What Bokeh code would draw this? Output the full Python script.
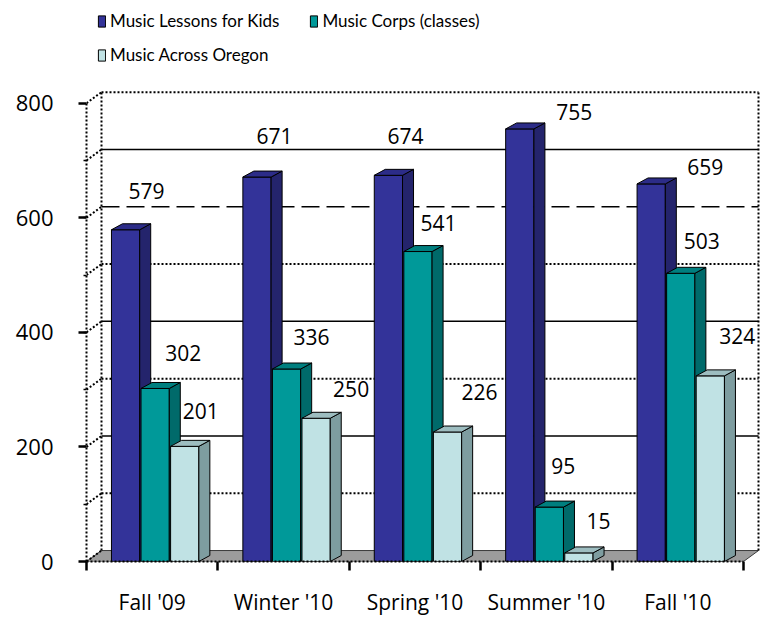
import numpy as np
from bokeh.plotting import figure
from bokeh.models import Range1d, FixedTicker, Legend, LegendItem
from bokeh.core.properties import value
from bokeh.embed import file_html
from bokeh.resources import INLINE

# ---------------- data ----------------
categories = ["Fall '09", "Winter '10", "Spring '10", "Summer '10", "Fall '10"]
series_names = ["Music Lessons for Kids", "Music Corps (classes)", "Music Across Oregon"]
lessons_for_kids = [579, 671, 674, 755, 659]
music_corps = [302, 336, 541, 95, 503]
music_across_oregon = [201, 250, 226, 15, 324]
y_ticks = [0, 200, 400, 600, 800]
y_max = 800

# ---------------- styles ----------------
FONT = "Open Sans"
LEG_FONT = "Lato"
front_colors = ["#333399", "#009999", "#C0E2E4"]
side_colors = ["#24246C", "#006A6A", "#7E9DA0"]
top_colors = ["#2C2C88", "#007F7F", "#9DBDC0"]
floor_color = "#9C9C9C"
# per-label pixel nudges (dx, dy) from the top-centre of each bar's front face
label_nudges = [
    [(21, -39), (17.5, -41), (17, -39.5), (54.5, -17), (54, -17)],
    [(28, -35), (25, -32), (20.5, -29), (14, -41), (21, -32)],
    [(16, -35), (35, -29), (32, -40), (19.5, -32), (27, -40)],
]
# back-wall gridline styles per level
grid_styles = {100: "dot", 200: "solid", 300: "dot", 400: "solid",
               500: "dot", 600: "dash", 700: "solid", 800: "dot"}

# ---------------- geometry ----------------
W, H = 771, 618
B_LEFT, B_RIGHT, B_TOP, B_BOTTOM = 86, 0, 0, 55
CAT_PX = 131.4        # pixels per category
UNIT_PX = 0.575       # pixels per value unit
frame_w = W - B_LEFT - B_RIGHT
frame_h = H - B_TOP - B_BOTTOM
x_end = frame_w / CAT_PX
y_end = frame_h / UNIT_PX

WALL_DX, WALL_DY = 15 / CAT_PX, 11 / UNIT_PX
BAR_DX, BAR_DY = 11 / CAT_PX, 6 / UNIT_PX
BAR_W = 0.215
BAR_OFFS = [0.19, 0.415, 0.64]

n = len(categories)
series = [lessons_for_kids, music_corps, music_across_oregon]

p = figure(width=W, height=H, output_backend="svg", toolbar_location=None,
           x_range=Range1d(0, x_end), y_range=Range1d(0, y_end),
           min_border_left=B_LEFT, min_border_right=B_RIGHT,
           min_border_top=B_TOP, min_border_bottom=B_BOTTOM)
p.xgrid.visible = False
p.ygrid.visible = False
p.outline_line_color = None
p.background_fill_color = "white"
p.border_fill_color = "white"

dot = dict(line_color="black", line_width=2, line_dash="2 2")
solid = dict(line_color="black", line_width=1.5)
dash = dict(line_color="black", line_width=1.5, line_dash="18 7")
style_map = {"dot": dot, "solid": solid, "dash": dash}

# floor
p.patch([0, n, n + WALL_DX, WALL_DX], [0, 0, WALL_DY, WALL_DY],
        fill_color=floor_color, line_color="#3a3a3a", line_width=1)

# back wall gridlines
levels = list(range(100, y_max + 1, 100))
for lv in levels:
    p.segment(x0=[WALL_DX], y0=[lv + WALL_DY], x1=[n + WALL_DX], y1=[lv + WALL_DY],
              **style_map[grid_styles[lv]])
# back wall edges
p.segment(x0=[WALL_DX, n + WALL_DX], y0=[WALL_DY, WALL_DY],
          x1=[WALL_DX, n + WALL_DX], y1=[y_max + WALL_DY, y_max + WALL_DY], **dot)
# left wall diagonals
diag_levels = list(range(0, y_max + 1, 100))
p.segment(x0=[0] * len(diag_levels), y0=diag_levels,
          x1=[WALL_DX] * len(diag_levels), y1=[v + WALL_DY for v in diag_levels], **dot)

# bars
front_renderers = []
for s, vals in enumerate(series):
    vals = np.array(vals, dtype=float)
    left = np.arange(n) + BAR_OFFS[s]
    right = left + BAR_W
    r = p.quad(left=left, right=right, bottom=0, top=vals,
               fill_color=front_colors[s], line_color="black", line_width=1)
    front_renderers.append(r)
    side_xs = [[rr, rr + BAR_DX, rr + BAR_DX, rr] for rr in right]
    side_ys = [[0, BAR_DY, v + BAR_DY, v] for v in vals]
    p.patches(side_xs, side_ys, fill_color=side_colors[s], line_color="black", line_width=1)
    top_xs = [[l, rr, rr + BAR_DX, l + BAR_DX] for l, rr in zip(left, right)]
    top_ys = [[v, v, v + BAR_DY, v + BAR_DY] for v in vals]
    p.patches(top_xs, top_ys, fill_color=top_colors[s], line_color="black", line_width=1)
    p.text(x=left + BAR_W / 2, y=vals, text=[str(int(v)) for v in vals],
           x_offset=[d[0] for d in label_nudges[s]], y_offset=[d[1] for d in label_nudges[s]],
           text_align="center", text_baseline="middle",
           text_font=value(FONT), text_font_size="21px", text_color="black")

# legends
leg_common = dict(orientation="horizontal", glyph_width=9, glyph_height=14,
                  label_standoff=4, spacing=30, padding=0, margin=0,
                  border_line_alpha=0, background_fill_alpha=0,
                  label_text_font=LEG_FONT, label_text_font_size="17px",
                  label_text_color="black", label_height=20)
leg1 = Legend(items=[LegendItem(label=series_names[0], renderers=[front_renderers[0]]),
                     LegendItem(label=series_names[1], renderers=[front_renderers[1]])],
              location=(11, 530), **leg_common)
leg2 = Legend(items=[LegendItem(label=series_names[2], renderers=[front_renderers[2]])],
              location=(11, 496), **leg_common)
p.add_layout(leg1)
p.add_layout(leg2)

# y axis
ya = p.yaxis[0]
ya.ticker = FixedTicker(ticks=y_ticks, minor_ticks=list(range(100, y_max, 100)))
ya.bounds = (0, y_max)
ya.axis_line_color = "black"
ya.axis_line_width = 2
ya.axis_line_dash = "2 2"
ya.major_tick_out = 8
ya.major_tick_in = 0
ya.major_tick_line_width = 2.5
ya.minor_tick_out = 3
ya.minor_tick_in = 0
ya.minor_tick_line_width = 1.5
ya.major_label_standoff = 25
ya.major_label_text_font = FONT
ya.major_label_text_font_size = "22px"
ya.major_label_text_color = "black"

# x axis
xa = p.xaxis[0]
centers = [i + 0.5 for i in range(n)]
xa.ticker = FixedTicker(ticks=centers, minor_ticks=list(range(n + 1)))
xa.major_label_overrides = {c: lab for c, lab in zip(centers, categories)}
xa.bounds = (0, n)
xa.axis_line_color = "black"
xa.axis_line_width = 2
xa.axis_line_dash = "2 2"
xa.major_tick_out = 0
xa.major_tick_in = 0
xa.minor_tick_out = 9
xa.minor_tick_in = 0
xa.minor_tick_line_width = 2.5
xa.minor_tick_line_color = "black"
xa.major_label_standoff = 17
xa.major_label_text_font = FONT
xa.major_label_text_font_size = "21px"
xa.major_label_text_color = "black"

open("out.html", "w").write(file_html(p, INLINE))
